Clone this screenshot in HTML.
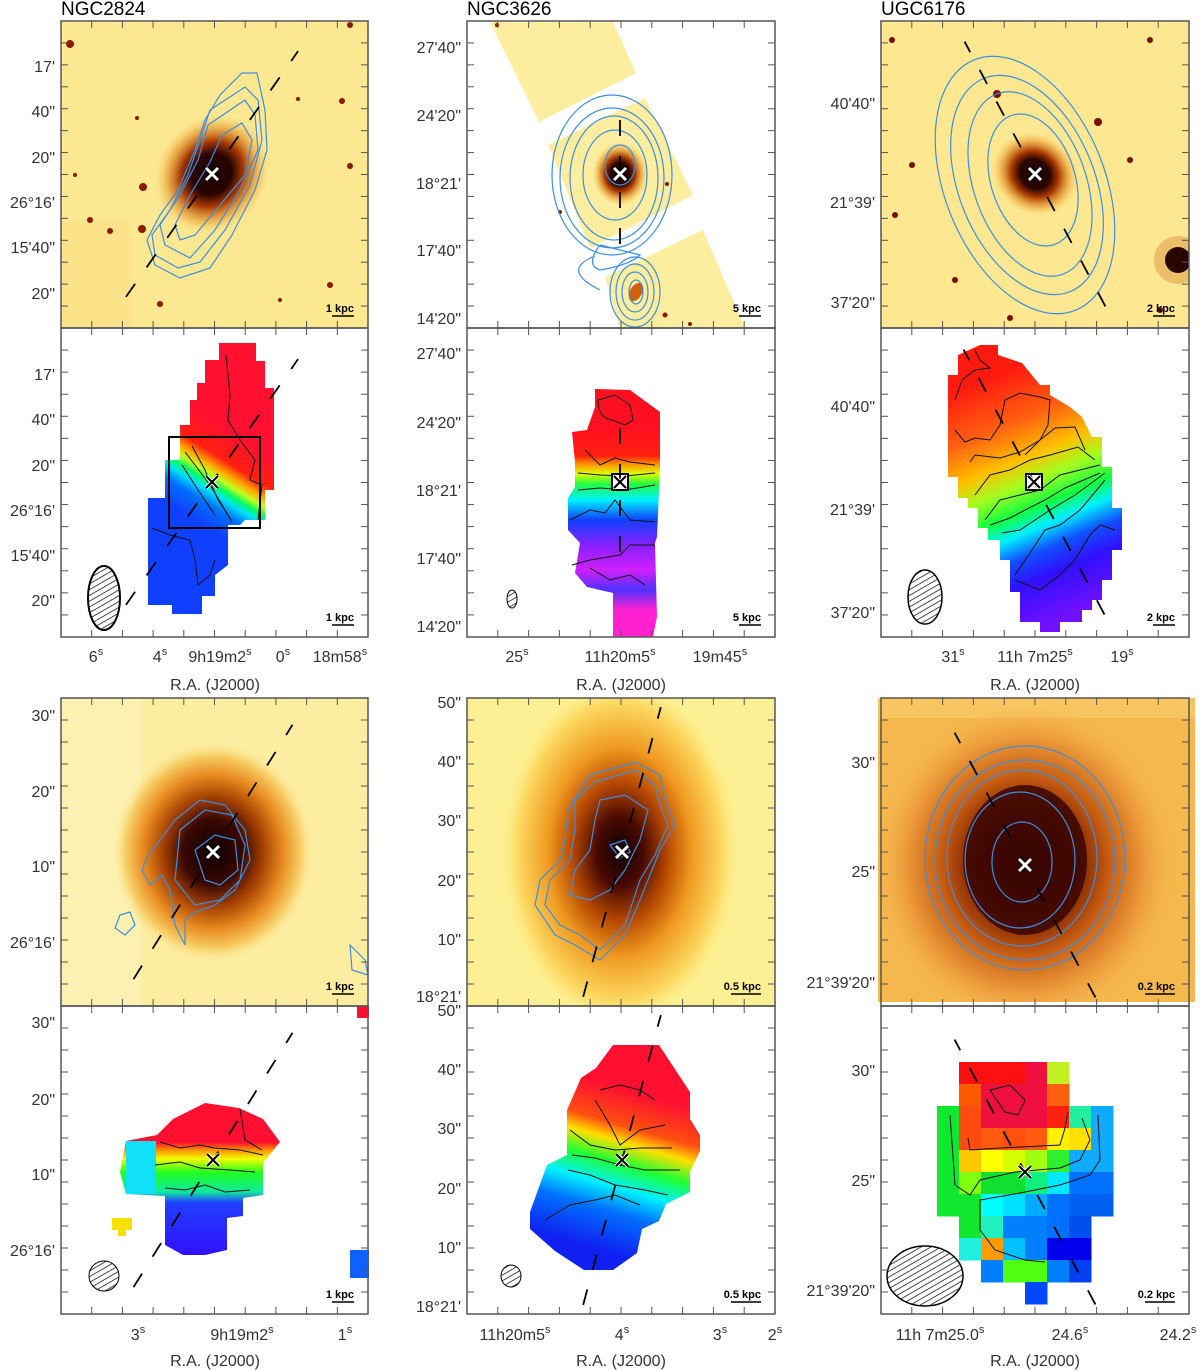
<!DOCTYPE html>
<html><head><meta charset="utf-8"><title>HI / optical maps</title>
<style>
html,body{margin:0;padding:0;background:#fff;}
svg{display:block;font-family:"Liberation Sans",sans-serif;}
.tk{font-size:16px;fill:#333;}
.ttl{font-size:19px;fill:#000;}
.sc{font-size:11px;font-weight:bold;fill:#000;}
</style></head>
<body>
<svg id="fig" width="1200" height="1371" viewBox="0 0 1200 1371" xmlns="http://www.w3.org/2000/svg">
<defs>
 <radialGradient id="core1" cx="50%" cy="50%" r="50%">
  <stop offset="0" stop-color="#1a0000"/><stop offset="0.35" stop-color="#2a0500"/><stop offset="0.55" stop-color="#a83a00"/><stop offset="0.8" stop-color="#e89a30" stop-opacity="0.6"/><stop offset="1" stop-color="#f6d060" stop-opacity="0"/>
 </radialGradient>
 <radialGradient id="core3a" cx="50%" cy="50%" r="50%">
  <stop offset="0" stop-color="#0e0000"/><stop offset="0.3" stop-color="#3a0800"/><stop offset="0.5" stop-color="#a44000"/><stop offset="0.7" stop-color="#e88a20"/><stop offset="0.88" stop-color="#f7cf66"/><stop offset="1" stop-color="#fce79a" stop-opacity="0"/>
 </radialGradient>
 <radialGradient id="core3b" cx="50%" cy="50%" r="50%">
  <stop offset="0" stop-color="#0e0000"/><stop offset="0.2" stop-color="#4a0a00"/><stop offset="0.4" stop-color="#b84a00"/><stop offset="0.6" stop-color="#f09a20"/><stop offset="0.85" stop-color="#fcd860"/><stop offset="1" stop-color="#fdf08a" stop-opacity="0"/>
 </radialGradient>
 <radialGradient id="core3c" cx="50%" cy="50%" r="50%">
  <stop offset="0" stop-color="#2a0000"/><stop offset="0.3" stop-color="#6a1500"/><stop offset="0.55" stop-color="#c45a10"/><stop offset="0.8" stop-color="#ec9a3a"/><stop offset="1" stop-color="#f5b050" stop-opacity="0"/>
 </radialGradient>
 <linearGradient id="v1" gradientUnits="userSpaceOnUse" x1="245" y1="440" x2="195" y2="520">
  <stop offset="0" stop-color="#ff1030"/><stop offset="0.3" stop-color="#ff2010"/><stop offset="0.42" stop-color="#ffb000"/><stop offset="0.5" stop-color="#c0ff20"/><stop offset="0.58" stop-color="#00ff60"/><stop offset="0.66" stop-color="#00e0ff"/><stop offset="0.78" stop-color="#0070ff"/><stop offset="1" stop-color="#1040ff"/>
 </linearGradient>
 <linearGradient id="v2" gradientUnits="userSpaceOnUse" x1="0" y1="430" x2="0" y2="630">
  <stop offset="0" stop-color="#ff1020"/><stop offset="0.13" stop-color="#ff2010"/><stop offset="0.17" stop-color="#ff9000"/><stop offset="0.22" stop-color="#e0ff00"/><stop offset="0.27" stop-color="#20ff40"/><stop offset="0.35" stop-color="#00f0ff"/><stop offset="0.45" stop-color="#1040ff"/><stop offset="0.58" stop-color="#8a20ff"/><stop offset="0.7" stop-color="#d020ff"/><stop offset="0.8" stop-color="#5030ff"/><stop offset="0.9" stop-color="#ff20d0"/><stop offset="1" stop-color="#ff20d0"/>
 </linearGradient>
 <linearGradient id="v3" gradientUnits="userSpaceOnUse" x1="985" y1="380" x2="1080" y2="610">
  <stop offset="0" stop-color="#ff1a10"/><stop offset="0.2" stop-color="#ff6010"/><stop offset="0.35" stop-color="#ffc000"/><stop offset="0.45" stop-color="#a0ff20"/><stop offset="0.55" stop-color="#10ff40"/><stop offset="0.63" stop-color="#00f0ff"/><stop offset="0.72" stop-color="#1050ff"/><stop offset="0.82" stop-color="#3010ff"/><stop offset="1" stop-color="#7010ff"/>
 </linearGradient>
 <linearGradient id="v4" gradientUnits="userSpaceOnUse" x1="0" y1="1105" x2="0" y2="1255">
  <stop offset="0" stop-color="#ff1030"/><stop offset="0.25" stop-color="#ff1030"/><stop offset="0.3" stop-color="#ff9000"/><stop offset="0.36" stop-color="#f0ff00"/><stop offset="0.45" stop-color="#20ff20"/><stop offset="0.58" stop-color="#10e8a0"/><stop offset="0.65" stop-color="#2040ff"/><stop offset="1" stop-color="#3010ff"/>
 </linearGradient>
 <linearGradient id="v5" gradientUnits="userSpaceOnUse" x1="645" y1="1095" x2="600" y2="1250">
  <stop offset="0" stop-color="#ff1030"/><stop offset="0.22" stop-color="#ff5010"/><stop offset="0.32" stop-color="#ffe000"/><stop offset="0.45" stop-color="#20ff30"/><stop offset="0.6" stop-color="#00f0ff"/><stop offset="0.75" stop-color="#0070ff"/><stop offset="1" stop-color="#1020f0"/>
 </linearGradient>
 <pattern id="hatch" width="5" height="5" patternUnits="userSpaceOnUse" patternTransform="rotate(-30)">
  <rect width="5" height="5" fill="#fff"/><line x1="0" y1="0" x2="5" y2="0" stroke="#000" stroke-width="1.4"/>
 </pattern>
 <clipPath id="c11"><rect x="61" y="21" width="307" height="307"/></clipPath>
 <clipPath id="c21"><rect x="467" y="21" width="308" height="307"/></clipPath>
 <clipPath id="c31"><rect x="881" y="21" width="308" height="307"/></clipPath>
 <clipPath id="c13"><rect x="61" y="698" width="307" height="308"/></clipPath>
 <clipPath id="c23"><rect x="467" y="698" width="308" height="308"/></clipPath>
 <clipPath id="c33"><rect x="878" y="698" width="317" height="304"/></clipPath>
</defs>

<text class="ttl" x="61" y="15">NGC2824</text>
<text class="ttl" x="467" y="15">NGC3626</text>
<text class="ttl" x="881" y="15">UGC6176</text>

<!-- ROW 1 -->
<g clip-path="url(#c11)">
 <rect x="61" y="21" width="307" height="307" fill="#fde892"/>
 <rect x="61" y="220" width="70" height="108" fill="#f8d678" opacity="0.35"/>
 <ellipse cx="212" cy="174" rx="55" ry="62" fill="url(#core1)" transform="rotate(35 212 174)"/>
 <g fill="#8a1a00"><circle cx="70" cy="44" r="4"/><circle cx="143" cy="187" r="4"/><circle cx="142" cy="229" r="4"/><circle cx="90" cy="220" r="3"/><circle cx="110" cy="231" r="3"/><circle cx="160" cy="304" r="3"/><circle cx="350" cy="25" r="3"/><circle cx="342" cy="101" r="3"/><circle cx="350" cy="166" r="3"/><circle cx="330" cy="285" r="3"/><circle cx="298" cy="99" r="2"/><circle cx="137" cy="118" r="2"/><circle cx="75" cy="175" r="2"/><circle cx="280" cy="300" r="2"/></g>
 <g fill="none" stroke="#3d8ee0" stroke-width="1.2">
  <path d="M242 73 L257 73 L265 110 L267 150 L255 190 L232 235 L210 268 L180 278 L155 265 L147 240 L160 215 L178 190 L195 150 L205 120 L220 95 Z"/>
  <path d="M245 87 L258 100 L262 140 L250 185 L225 230 L200 262 L178 268 L155 255 L152 235 L170 210 L188 175 L200 140 L210 110 Z"/>
  <path d="M245 100 L255 115 L258 150 L240 190 L215 230 L190 258 L165 245 L160 225 L180 195 L198 160 L208 125 Z"/>
  <path d="M242 123 L252 140 L245 175 L220 205 L195 235 L180 240 L175 225 L190 195 L210 162 L222 135 Z"/>
 </g>
</g>
<g clip-path="url(#c21)">
 <rect x="467" y="21" width="308" height="307" fill="#fff"/>
 <polygon points="490,22 613,22 636,73 539,122" fill="#fcee9e"/>
 <polygon points="548,145 645,98 693,195 590,248" fill="#fcee9e"/>
 <polygon points="605,277 703,230 745,328 620,328" fill="#fcee9e"/>
 <ellipse cx="620" cy="174" rx="28" ry="32" fill="url(#core1)"/>
 <ellipse cx="636" cy="292" rx="6" ry="10" fill="#d06010" transform="rotate(30 636 292)"/>
 <g fill="#8a1a00"><circle cx="497" cy="25" r="2"/><circle cx="665" cy="315" r="2.5"/><circle cx="690" cy="324" r="2"/><circle cx="667" cy="184" r="2"/><circle cx="560" cy="212" r="2"/></g>
 <g fill="none" stroke="#3d8ee0" stroke-width="1.2">
  <ellipse cx="612" cy="175" rx="60" ry="80"/>
  <ellipse cx="612" cy="178" rx="52" ry="70"/>
  <ellipse cx="614" cy="178" rx="44" ry="62"/>
  <ellipse cx="615" cy="175" rx="32" ry="45"/>
  <ellipse cx="620" cy="165" rx="15" ry="20"/>
  <path d="M600 245 Q585 265 600 270 Q630 265 640 255 Q620 250 600 245"/>
  <path d="M595 256 Q560 270 600 290"/>
  <ellipse cx="635" cy="292" rx="25" ry="35"/><ellipse cx="635" cy="292" rx="19" ry="28"/><ellipse cx="635" cy="292" rx="13" ry="20"/><ellipse cx="636" cy="292" rx="7" ry="12"/>
 </g>
</g>
<g clip-path="url(#c31)">
 <rect x="881" y="21" width="308" height="307" fill="#fde790"/>
 <ellipse cx="1035" cy="174" rx="45" ry="40" fill="url(#core1)" transform="rotate(40 1035 174)"/>
 <circle cx="1178" cy="260" r="24" fill="#c86010" opacity="0.3"/><circle cx="1178" cy="260" r="13" fill="#2a0400"/>
 <g fill="#7a1000"><circle cx="997" cy="94" r="4"/><circle cx="1098" cy="122" r="4"/><circle cx="892" cy="40" r="3"/><circle cx="912" cy="165" r="3"/><circle cx="895" cy="215" r="3"/><circle cx="1130" cy="160" r="3"/><circle cx="1150" cy="40" r="3"/><circle cx="955" cy="280" r="3"/><circle cx="1160" cy="310" r="3"/><circle cx="1010" cy="318" r="3"/></g>
 <g fill="none" stroke="#3d8ee0" stroke-width="1.2">
  <ellipse cx="1025" cy="185" rx="80" ry="135" transform="rotate(-22 1025 185)"/>
  <ellipse cx="1027" cy="185" rx="68" ry="115" transform="rotate(-22 1027 185)"/>
  <ellipse cx="1030" cy="184" rx="56" ry="96" transform="rotate(-20 1030 184)"/>
  <ellipse cx="1033" cy="180" rx="42" ry="68" transform="rotate(-18 1033 180)"/>
 </g>
</g>

<!-- ROW 2 velocity maps -->
<g>
 <polygon points="219,343 256,343 256,361 265,361 265,388 274,388 274,490 265,490 265,520 245,520 240,525 228,525 228,565 215,575 215,596 202,596 202,614 172,614 172,605 148,605 148,498 165,498 165,460 180,460 180,425 190,425 190,400 197,400 197,383 205,383 205,360 219,360" fill="url(#v1)"/>
 <g fill="none" stroke="#111" stroke-width="1"><path d="M226 355 L230 395 L228 420 L240 440 L255 460 L250 480 L262 485 L258 520"/><path d="M185 452 L195 465 L210 485 L225 510 L232 522"/><path d="M192 446 L205 470 L218 500 L228 515"/><path d="M182 465 L198 490 L215 515"/><path d="M152 528 L170 535 L190 540 L195 560 L198 585 L210 575 L215 560"/></g>
 <rect x="169" y="437" width="91" height="91" fill="none" stroke="#000" stroke-width="2"/>
</g>
<g>
 <polygon points="595,389 630,390 660,412 660,467 657,537 655,543 657,617 653,637 613,637 613,593 587,587 575,573 580,543 568,530 568,498 575,487 575,462 572,432 587,430 595,407" fill="url(#v2)"/>
 <g fill="none" stroke="#111" stroke-width="1"><path d="M598 400 L615 395 L630 405 L633 420 L625 425 L612 420 Q598 418 598 400"/><path d="M585 450 L600 465 L615 458 L630 462 L655 465"/><path d="M578 473 L600 475 L625 476 L655 473"/><path d="M578 490 L600 488 L625 490 L655 485"/><path d="M570 520 L590 510 L605 513 L615 500 L630 520 L655 522"/><path d="M572 565 L590 560 L620 555 L630 545 L655 545"/><path d="M590 568 L610 580 L630 575 L645 585"/></g>
 <rect x="612" y="474" width="16" height="16" fill="#fff" stroke="#000" stroke-width="2"/>
</g>
<g>
 <polygon points="958,355 980,345 998,345 998,355 1022,363 1040,385 1050,385 1050,395 1070,407 1082,417 1092,437 1102,437 1102,467 1112,467 1112,508 1122,508 1122,550 1112,550 1112,580 1102,580 1102,600 1092,600 1092,610 1082,610 1082,622 1060,622 1060,632 1040,632 1040,622 1020,622 1020,592 1010,592 1010,560 1000,560 1000,540 988,540 988,528 978,528 978,508 968,508 968,498 958,498 958,477 948,477 948,375 958,375" fill="url(#v3)"/>
 <g fill="none" stroke="#111" stroke-width="1"><path d="M955 400 L962 380 L975 370 L990 368 L980 360 L975 350"/><path d="M955 430 L965 442 L975 438 L990 440 L1000 425 L1005 400 L1020 393 L1040 397 L1050 400 L1048 425 L1040 440 L1025 455"/><path d="M970 462 L975 455 L1000 458 L1020 452 L1040 440 L1055 428 L1075 427 L1085 450"/><path d="M975 495 L990 475 L1010 470 L1030 460 L1050 455 L1078 447 L1095 460"/><path d="M985 520 L1000 500 L1020 495 L1040 490 L1060 475 L1080 470 L1100 465"/><path d="M990 525 L1010 518 L1025 510 L1045 500 L1065 488 L1100 473"/><path d="M1002 533 L1020 530 L1035 520 L1050 510 L1075 495 L1105 473"/><path d="M1015 575 L1030 553 L1045 530 L1060 525 L1080 510 L1105 480"/><path d="M1015 580 L1040 590 L1060 575 L1075 560 L1090 535 L1100 525 L1115 530"/></g>
 <rect x="1026" y="474" width="16" height="16" fill="#fff" stroke="#000" stroke-width="2"/>
</g>

<!-- ROW 3 -->
<g clip-path="url(#c13)">
 <rect x="61" y="698" width="307" height="308" fill="#fdeda0"/>
 <rect x="61" y="698" width="80" height="308" fill="#fef3bc" opacity="0.6"/>
 <ellipse cx="213" cy="852" rx="100" ry="110" fill="url(#core3a)"/>
 <g fill="none" stroke="#3d8ee0" stroke-width="1.2">
  <path d="M175 820 L200 800 L225 805 L245 830 L250 860 L235 890 L215 905 L195 912 L185 920 L185 945 L175 925 L170 890 L162 875 L150 885 L142 870 L148 855 L160 840 Z"/>
  <path d="M180 830 L205 810 L232 815 L245 845 L240 880 L220 900 L195 905 L175 880 Z"/>
  <path d="M195 850 L215 835 L235 840 L238 870 L220 885 L205 880 Z"/>
  <path d="M120 915 L130 912 L135 925 L125 935 L115 928 Z"/>
  <path d="M350 945 L365 960 L368 975 L352 970 Z"/>
 </g>
</g>
<g clip-path="url(#c23)">
 <rect x="467" y="698" width="308" height="308" fill="#fdf094"/>
 <ellipse cx="620" cy="852" rx="120" ry="175" fill="url(#core3b)"/>
 <g fill="none" stroke="#3d8ee0" stroke-width="1.2">
  <path d="M590 775 L635 762 L660 775 L665 800 L675 825 L660 850 L650 875 L640 900 L625 935 L600 960 L575 945 L555 935 L535 905 L540 880 L560 860 L565 840 L568 810 L580 790 Z"/>
  <path d="M595 782 L635 770 L655 785 L660 805 L668 825 L655 855 L640 880 L625 925 L600 950 L580 935 L560 925 L545 905 L550 880 L570 860 L575 830 L575 800 Z"/>
  <path d="M600 800 L625 795 L648 810 L640 840 L625 870 L610 890 L590 900 L570 895 L575 870 L590 850 L595 820 Z"/>
  <path d="M610 845 L625 840 L630 852 L620 858 Z"/>
 </g>
</g>
<g clip-path="url(#c33)">
 <rect x="878" y="698" width="317" height="304" fill="#f5b84c"/>
 <rect x="878" y="698" width="317" height="20" fill="#f8c660"/>
 <ellipse cx="1025" cy="865" rx="150" ry="160" fill="url(#core3c)"/>
 <ellipse cx="1025" cy="860" rx="62" ry="75" fill="#3a0600" opacity="0.85"/>
 <g fill="none" stroke="#3d8ee0" stroke-width="1.2">
  <ellipse cx="1025" cy="858" rx="100" ry="112"/>
  <ellipse cx="1025" cy="860" rx="90" ry="100"/>
  <ellipse cx="1022" cy="858" rx="75" ry="88"/>
  <ellipse cx="1020" cy="860" rx="55" ry="68"/>
  <ellipse cx="1022" cy="862" rx="30" ry="40"/>
 </g>
</g>

<!-- ROW 4 -->
<g>
 <polygon points="157,1135 173,1119 205,1103 239,1108 263,1119 280,1142 263,1163 263,1195 243,1198 243,1216 227,1218 227,1250 205,1255 183,1255 165,1245 165,1196 126,1194 120,1172 126,1141" fill="url(#v4)"/>
 <rect x="126" y="1141" width="30" height="53" fill="#10e0f8"/>
 <rect x="112" y="1218" width="20" height="12" fill="#f8e000"/><rect x="118" y="1228" width="8" height="8" fill="#f8e000"/>
 <rect x="357" y="1006" width="12" height="12" fill="#ff1030"/><rect x="350" y="1250" width="19" height="28" fill="#1060ff"/>
 <g fill="none" stroke="#111" stroke-width="1"><path d="M160 1142 L180 1148 L200 1145 L215 1148 L240 1150 L263 1155"/><path d="M155 1165 L180 1162 L200 1168 L230 1170 L255 1172"/><path d="M165 1188 L185 1190 L205 1185 L225 1192 L250 1190"/><path d="M240 1109 L245 1140 L262 1150"/></g>
</g>
<g>
 <polygon points="613,1045 659,1045 690,1092 690,1119 700,1135 700,1151 690,1172 690,1192 666,1204 659,1221 642,1229 637,1253 613,1270 584,1270 555,1251 530,1229 530,1212 547,1165 567,1155 567,1110 581,1078 596,1068" fill="url(#v5)"/>
 <g fill="none" stroke="#111" stroke-width="1"><path d="M600 1090 L620 1085 L640 1090 L655 1100"/><path d="M595 1100 L610 1125 L620 1145 L640 1130 L665 1125"/><path d="M570 1130 L590 1145 L615 1150 L640 1148 L672 1148"/><path d="M572 1155 L595 1158 L620 1165 L645 1170 L680 1170"/><path d="M568 1170 L590 1175 L615 1185 L645 1190 L668 1195"/><path d="M545 1220 L570 1205 L595 1200 L615 1195 L640 1205"/></g>
</g>
<g id="ugc-grid"></g>

<ellipse cx="104" cy="598" rx="16" ry="32" fill="url(#hatch)" stroke="#000" stroke-width="2"/>
<ellipse cx="512" cy="599" rx="5" ry="9" fill="url(#hatch)" stroke="#000" stroke-width="1"/>
<ellipse cx="925" cy="597" rx="17" ry="27" fill="url(#hatch)" stroke="#000" stroke-width="1.5"/>
<ellipse cx="104" cy="1276" rx="15" ry="15" fill="url(#hatch)" stroke="#000" stroke-width="1"/>
<ellipse cx="511" cy="1276" rx="10" ry="11" fill="url(#hatch)" stroke="#000" stroke-width="1"/>
<ellipse cx="925" cy="1276" rx="38" ry="30" fill="url(#hatch)" stroke="#000" stroke-width="1.5"/>

<g id="overlays"></g>
<g id="axes"></g>
</svg>
<script>
const panelCols = [[61,368],[467,775],[881,1189]];
const panelRows = [[21,328],[328,637],[698,1006],[1006,1314]];
const galaxyNames = ["NGC2824","NGC3626","UGC6176"];
const decLabelsR1C1 = ["17'","40\"","20\"","26°16'","15'40\"","20\""];
const decPosR1C1 = [66,111,157,202,247,293];
const decLabelsR1C2 = ["27'40\"","24'20\"","18°21'","17'40\"","14'20\""];
const decPosR1C2 = [47,115,183,250,318];
const decLabelsR1C3 = ["40'40\"","21°39'","37'20\""];
const decPosR1C3 = [103,202,302];
const decPosR2C1 = [374,419,465,510,555,600];
const decPosR2C2 = [353,422,490,558,626];
const decPosR2C3 = [406,509,612];
const decLabelsR3C1 = ["30\"","20\"","10\"","26°16'"];
const decPosR3C1 = [715,791,866,942];
const decLabelsR3C2 = ["50\"","40\"","30\"","20\"","10\"","18°21'"];
const decPosR3C2 = [702,761,820,880,939,996];
const decLabelsR3C3 = ["30\"","25\"","21°39'20\""];
const decPosR3C3 = [762,871,982];
const decPosR4C1 = [1022,1099,1174,1250];
const decPosR4C2 = [1010,1069,1128,1188,1247,1306];
const decPosR4C3 = [1070,1180,1290];
const raLabelsR2C1 = [["6","s"],["4","s"],["9h19m2","s"],["0","s"],["18m58","s"]];
const raPosR2C1 = [96,160,220,283,340];
const raLabelsR2C2 = [["25","s"],["11h20m5","s"],["19m45","s"]];
const raPosR2C2 = [517,620,720];
const raLabelsR2C3 = [["31","s"],["11h 7m25","s"],["19","s"]];
const raPosR2C3 = [953,1035,1122];
const raLabelsR4C1 = [["3","s"],["9h19m2","s"],["1","s"]];
const raPosR4C1 = [138,242,345];
const raLabelsR4C2 = [["11h20m5","s"],["4","s"],["3","s"],["2","s"]];
const raPosR4C2 = [515,622,720,775];
const raLabelsR4C3 = [["11h 7m25.0","s"],["24.6","s"],["24.2","s"]];
const raPosR4C3 = [940,1070,1178];
const scaleLabels = ["1 kpc","5 kpc","2 kpc","1 kpc","5 kpc","2 kpc","1 kpc","0.5 kpc","0.2 kpc","1 kpc","0.5 kpc","0.2 kpc"];
const centers = [[212,174],[620,174],[1035,174],[212,482],[620,482],[1034,482],[213,852],[622,852],[1025,865],[213,1160],[622,1160],[1025,1172]];
const paAngles = [35,0,-28,35,0,-28,32,15,-28,32,15,-28];
const ugcCells = [
 ["","#ff1010","#ff1010","#ff1010","#f01040","#c0f020","",""],
 ["","#ff5a00","#f01040","#f01040","#f01040","#ff6010","",""],
 ["#10e830","#ff4a10","#f01040","#f01040","#f01040","#ff2010","#20f0a0","#10aaff"],
 ["#10e830","#ff4a10","#ff5a10","#ff5010","#ff5a10","#fff000","#ffe000","#10aaff"],
 ["#10e830","#ffc800","#ffff00","#d8ff00","#a0ff10","#30ee30","#10aaff","#10aaff"],
 ["#10e830","#80ff10","#10e030","#10e030","#10f080","#00e8ff","#0070ff","#0070ff"],
 ["#10e830","#10e830","#00ffff","#00e0ff","#00aaff","#0070ff","#0060f0","#0060f0"],
 ["","#10e830","#20f0c0","#0080ff","#0080ff","#0070ff","#0050f0",""],
 ["","#20f0e0","#ff9a00","#00c0ff","#0080ff","#0000ee","#0000ee",""],
 ["","","#0080ff","#50ff10","#50ff10","#0080ff","#0040f0",""],
 ["","","","","#0048ff","","",""]
];
const cellX0 = 937, cellY0 = 1062, cellStep = 22;

const NS = "http://www.w3.org/2000/svg";
function mk(tag, attrs, parent){const e=document.createElementNS(NS,tag);for(const k in attrs)e.setAttribute(k,attrs[k]);parent.appendChild(e);return e;}

const grid = document.getElementById('ugc-grid');
ugcCells.forEach((row,r)=>row.forEach((c,i)=>{ if(!c) return;
 const el = mk('rect',{x:cellX0+i*cellStep,y:cellY0+r*cellStep,width:cellStep+0.5,height:cellStep+0.5,fill:c},grid);
 
 
}));
const gl = mk('g',{fill:'none',stroke:'#111','stroke-width':1},grid);
["M968 1138 L970 1150 L1000 1148 L1060 1145 L1065 1128 L1068 1112","M950 1115 L955 1185 L970 1195 L980 1180 L1015 1172 L1060 1168 L1080 1160 L1090 1140 L1082 1118","M990 1090 L1010 1085 L1025 1100 L1018 1115 L1005 1112 Z","M1098 1115 L1100 1160 L1090 1175 L1060 1185 L1020 1193 L980 1200 L980 1230 L995 1250 L1025 1260 L1045 1262"].forEach(d=>mk('path',{d:d},gl));

const ov = document.getElementById('overlays');
centers.forEach((c,i)=>{
 const a = paAngles[i]*Math.PI/180;
 const L = (i%3===1 && i<6) ? 70 : 150;
 const dx = Math.sin(a)*L, dy = -Math.cos(a)*L;
 const line = mk('line',{x1:c[0]-dx,y1:c[1]-dy,x2:c[0]+dx,y2:c[1]+dy,stroke:'#000','stroke-width':1.8,'stroke-dasharray':'16,20'},ov);
 
 
 const white = (i<3)||(i>=6&&i<9);
 const g = mk('g',{},ov);
 
 
 const s=6;
 const d=`M${c[0]-s} ${c[1]-s}L${c[0]+s} ${c[1]+s}M${c[0]+s} ${c[1]-s}L${c[0]-s} ${c[1]+s}`;
 if(white){
  mk('path',{d:d,stroke:'#000','stroke-width':5},g);
  mk('path',{d:d,stroke:'#fff','stroke-width':3},g);
 } else {
  mk('path',{d:d,stroke:'#fff','stroke-width':4},g);
  mk('path',{d:d,stroke:'#000','stroke-width':2},g);
 }
});
scaleLabels.forEach((t,i)=>{
 const col=i%3,row=Math.floor(i/3);
 const x=panelCols[col][1]-14, y=panelRows[row][1]-16;
 const tx=mk('text',{x:x,y:y,'text-anchor':'end',class:'sc'},ov); tx.textContent=t;
 
 
 mk('line',{x1:x-(t.length>5?30:22),y1:y+4,x2:x,y2:y+4,stroke:'#000','stroke-width':1.5},ov);
});

const ax = document.getElementById('axes');
for(let r=0;r<4;r++)for(let c=0;c<3;c++){
 const [x0,x1]=panelCols[c],[y0,y1]=panelRows[r];
 const b=mk('rect',{x:x0,y:y0,width:x1-x0,height:y1-y0,fill:'none',stroke:'#555','stroke-width':1.5},ax);
 
 
 for(let k=1;k<10;k++){const xx=x0+(x1-x0)*k/10;mk('line',{x1:xx,y1:y0,x2:xx,y2:y0+7,stroke:'#555'},ax);mk('line',{x1:xx,y1:y1,x2:xx,y2:y1-7,stroke:'#555'},ax);}
 for(let k=1;k<14;k++){const yy=y0+(y1-y0)*k/14;mk('line',{x1:x0,y1:yy,x2:x0+7,y2:yy,stroke:'#555'},ax);mk('line',{x1:x1,y1:yy,x2:x1-7,y2:yy,stroke:'#555'},ax);}
}
function ylabels(labels,pos,col){
 pos.forEach((p,i)=>{const t=mk('text',{x:panelCols[col][0]-6,y:p+6,'text-anchor':'end',class:'tk'},ax);t.textContent=labels[i];
  
  });
}
ylabels(decLabelsR1C1,decPosR1C1,0);ylabels(decLabelsR1C2,decPosR1C2,1);ylabels(decLabelsR1C3,decPosR1C3,2);
ylabels(decLabelsR1C1,decPosR2C1,0);ylabels(decLabelsR1C2,decPosR2C2,1);ylabels(decLabelsR1C3,decPosR2C3,2);
ylabels(decLabelsR3C1,decPosR3C1,0);ylabels(decLabelsR3C2,decPosR3C2,1);ylabels(decLabelsR3C3,decPosR3C3,2);
ylabels(decLabelsR3C1,decPosR4C1,0);ylabels(decLabelsR3C2,decPosR4C2,1);ylabels(decLabelsR3C3,decPosR4C3,2);
function xlabels(labels,pos,y){
 labels.forEach((l,i)=>{const t=mk('text',{x:pos[i],y:y,'text-anchor':'middle',class:'tk'},ax);
  
  
  const a=document.createElementNS(NS,'tspan');a.textContent=l[0];t.appendChild(a);
  const s=document.createElementNS(NS,'tspan');s.setAttribute('dy','-7');s.setAttribute('font-size','11');s.textContent=l[1];t.appendChild(s);});
}
xlabels(raLabelsR2C1,raPosR2C1,662);xlabels(raLabelsR2C2,raPosR2C2,662);xlabels(raLabelsR2C3,raPosR2C3,662);
xlabels(raLabelsR4C1,raPosR4C1,1340);xlabels(raLabelsR4C2,raPosR4C2,1340);xlabels(raLabelsR4C3,raPosR4C3,1340);
[[215,690],[621,690],[1035,690],[215,1366],[621,1366],[1035,1366]].forEach(p=>{
 const t=mk('text',{x:p[0],y:p[1],'text-anchor':'middle',class:'tk'},ax);t.textContent='R.A. (J2000)';
 
 
});
</script>
</body></html>
